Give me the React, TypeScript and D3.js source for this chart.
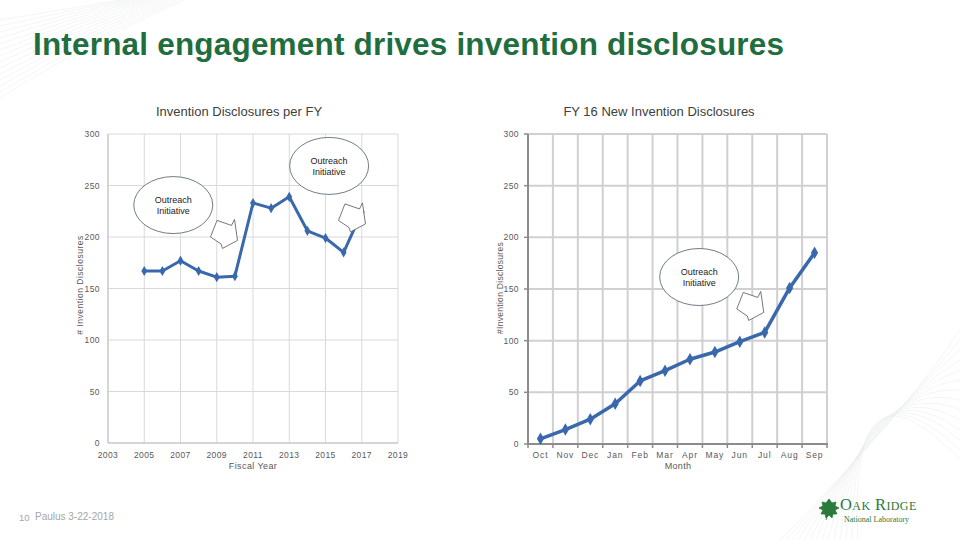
import * as d3 from 'd3';

const FY_YEARS = [2005, 2006, 2007, 2008, 2009, 2010, 2011, 2012, 2013, 2014, 2015, 2016, 2017];
const FY_VALUES = [167, 167, 177, 167, 161, 162, 233, 228, 239, 206, 199, 185, 224];
const FY_TICKS = [2003, 2005, 2007, 2009, 2011, 2013, 2015, 2017, 2019];

const MONTHS = ['Oct', 'Nov', 'Dec', 'Jan', 'Feb', 'Mar', 'Apr', 'May', 'Jun', 'Jul', 'Aug', 'Sep'];
const MONTH_VALUES = [5, 14, 24, 39, 61, 71, 82, 89, 99, 108, 151, 185];

const Y_TICKS = [0, 50, 100, 150, 200, 250, 300];

const LINE_COLOR = '#3a68ac';
const GRID = '#d9d9d9';
const TICK_TEXT = '#595959';
const FONT = '"Liberation Sans", Arial, sans-serif';

// block arrow outline, local px around its centre
const ARROW = [[-7, -13.5], [7.5, -8.5], [10.5, -14.5], [13.5, 6.5], [-1.5, 14.5], [-3, 10], [-13.5, 3]];

const arrowPath = (cx: number, cy: number) =>
  'M' + ARROW.map(([dx, dy]) => `${cx + dx},${cy + dy}`).join('L') + 'Z';

function Bubble({ cx, cy }: { cx: number; cy: number }) {
  return (
    <g>
      <ellipse cx={cx} cy={cy} rx={39.5} ry={28.5} fill="#fff" stroke="#4d5b69" strokeWidth={0.8} />
      <text x={cx} y={cy - 2} textAnchor="middle" fontSize={9} fill="#222" fontFamily={FONT}>Outreach</text>
      <text x={cx} y={cy + 9} textAnchor="middle" fontSize={9} fill="#222" fontFamily={FONT}>Initiative</text>
    </g>
  );
}

function FyChart() {
  const x = d3.scaleLinear().domain([2003, 2019]).range([108, 398]);
  const y = d3.scaleLinear().domain([0, 300]).range([443, 134]);
  const pts = FY_YEARS.map((yr, i) => [x(yr), y(FY_VALUES[i])] as [number, number]);
  const line = d3.line()(pts) || '';
  const diamond = d3.symbol(d3.symbolDiamond, 30)() || '';

  return (
    <g fontFamily={FONT}>
      <text x={239} y={116} textAnchor="middle" fontSize={13} fill="#404040">Invention Disclosures per FY</text>
      {Y_TICKS.map(t => (
        <g key={t}>
          <line x1={108} x2={398} y1={y(t)} y2={y(t)} stroke={GRID} strokeWidth={1} />
          <text x={100} y={y(t) + 3} textAnchor="end" fontSize={8.5} fill={TICK_TEXT} letterSpacing={0.4}>{t}</text>
        </g>
      ))}
      {FY_TICKS.map(t => (
        <g key={t}>
          <line x1={x(t)} x2={x(t)} y1={134} y2={443} stroke={GRID} strokeWidth={1} />
          <text x={x(t)} y={458} textAnchor="middle" fontSize={8.5} fill={TICK_TEXT} letterSpacing={0.4}>{t}</text>
        </g>
      ))}
      <line x1={108} x2={108} y1={134} y2={443} stroke="#bfbfbf" />
      <line x1={108} x2={398} y1={443} y2={443} stroke="#bfbfbf" />
      <text x={253} y={469} textAnchor="middle" fontSize={9} fill={TICK_TEXT} letterSpacing={0.4}>Fiscal Year</text>
      <text transform="translate(83,285) rotate(-90)" textAnchor="middle" fontSize={8.5} fill={TICK_TEXT} letterSpacing={0.5}>
        # Invention Disclosures
      </text>

      <path d={line} fill="none" stroke={LINE_COLOR} strokeWidth={3} strokeLinejoin="round" />
      {pts.map(([px, py], i) => (
        <path key={i} d={diamond} transform={`translate(${px},${py})`} fill={LINE_COLOR} />
      ))}

      <path d={arrowPath(x(2009.4), y(203))} fill="#fff" stroke="#555" strokeWidth={0.8} />
      <path d={arrowPath(x(2016.46), y(219))} fill="#fff" stroke="#555" strokeWidth={0.8} />
      <Bubble cx={x(2006.6)} cy={y(231)} />
      <Bubble cx={x(2015.2)} cy={y(269)} />
    </g>
  );
}

function MonthChart() {
  const x = d3.scaleBand().domain(MONTHS).range([528, 827]);
  const y = d3.scaleLinear().domain([0, 300]).range([444, 134]);
  const step = x.step();
  const xAt = (i: number) => (x(MONTHS[0]) || 0) + i * step + x.bandwidth() / 2;
  const pts = MONTHS.map((m, i) => [(x(m) || 0) + x.bandwidth() / 2, y(MONTH_VALUES[i])] as [number, number]);
  const line = d3.line()(pts) || '';
  const diamond = d3.symbol(d3.symbolDiamond, 45)() || '';
  const edges = d3.range(MONTHS.length + 1).map(i => 528 + i * step);

  return (
    <g fontFamily={FONT}>
      <text x={659} y={116} textAnchor="middle" fontSize={13} fill="#404040">FY 16 New Invention Disclosures</text>
      {Y_TICKS.map(t => (
        <g key={t}>
          <line x1={528} x2={827} y1={y(t)} y2={y(t)} stroke="#d0d0d0" strokeWidth={2} />
          <line x1={524} x2={528} y1={y(t)} y2={y(t)} stroke="#8c8c8c" strokeWidth={1.5} />
          <text x={519} y={y(t) + 3} textAnchor="end" fontSize={8.5} fill={TICK_TEXT} letterSpacing={0.4}>{t}</text>
        </g>
      ))}
      {edges.map((e, i) => (
        <g key={i}>
          <line x1={e} x2={e} y1={134} y2={444} stroke="#d0d0d0" strokeWidth={2} />
          <line x1={e} x2={e} y1={444} y2={448} stroke="#8c8c8c" strokeWidth={1.5} />
        </g>
      ))}
      <line x1={528} x2={528} y1={134} y2={445} stroke="#8c8c8c" strokeWidth={2} />
      <line x1={527} x2={828} y1={444} y2={444} stroke="#8c8c8c" strokeWidth={2} />
      {MONTHS.map(m => (
        <text key={m} x={(x(m) || 0) + x.bandwidth() / 2} y={458} textAnchor="middle" fontSize={8.5}
          fill={TICK_TEXT} letterSpacing={0.9}>{m}</text>
      ))}
      <text x={678} y={469} textAnchor="middle" fontSize={9} fill={TICK_TEXT} letterSpacing={0.3}>Month</text>
      <text transform="translate(503,288) rotate(-90)" textAnchor="middle" fontSize={8.5} fill={TICK_TEXT} letterSpacing={0.3}>
        #Invention Disclosures
      </text>

      <path d={line} fill="none" stroke={LINE_COLOR} strokeWidth={3.5} strokeLinejoin="round" />
      {pts.map(([px, py], i) => (
        <path key={i} d={diamond} transform={`translate(${px},${py})`} fill={LINE_COLOR} />
      ))}

      <path d={arrowPath(xAt(8.42), y(133.6))} fill="#fff" stroke="#555" strokeWidth={0.8} />
      <Bubble cx={xAt(6.37)} cy={y(161.6)} />
    </g>
  );
}

function Watermark() {
  const arcs = d3.range(14);
  return (
    <g fill="none" stroke="#c9d6cc" strokeWidth={0.6} opacity={0.35}>
      {arcs.map(i => (
        <path key={'a' + i} d={`M${780 + i * 6},540 Q${900 - i * 4},${420 - i * 6} 960,${330 + i * 10}`} />
      ))}
      {arcs.map(i => (
        <path key={'b' + i} d={`M0,${20 + i * 6} Q${60 + i * 3},${10 + i * 2} ${120 + i * 5},0`} />
      ))}
    </g>
  );
}

function Logo() {
  return (
    <g>
      <path d="M829,499 l3,4 4,-1 -1,4 4,2 -4,2 2,4 -4,0 -1,4 -3,-3 -3,3 -1,-4 -4,0 2,-4 -4,-2 4,-2 -1,-4 4,1 z M829,512 l-3,8"
        fill="#2a7a3b" stroke="#2a7a3b" strokeWidth={0.8} />
      <text x={840} y={510} fontFamily='"Liberation Serif", "DejaVu Serif", serif' fontSize={16.5}
        fontVariant="small-caps" fill="#2a7a3b" letterSpacing={0.4}>
        Oak Ridge
      </text>
      <text x={844} y={522} fontFamily='"Liberation Serif", "DejaVu Serif", serif' fontSize={8} fill="#2a7a3b">
        National Laboratory
      </text>
    </g>
  );
}

export default function App() {
  return (
    <div style={{ position: 'absolute', left: 0, top: 0 }}>
      <svg width={960} height={540} style={{ display: 'block', background: '#fff' }}>
        <Watermark />
        <text x={33} y={55} fontFamily={FONT} fontSize={31.5} fontWeight="bold" fill="#1f6e40"
          textLength={751} lengthAdjust="spacing">
          Internal engagement drives invention disclosures
        </text>
        <FyChart />
        <MonthChart />
        <text x={19} y={521} fontFamily={FONT} fontSize={9.5} fill="#a6a6a6">10</text>
        <text x={35} y={520} fontFamily={FONT} fontSize={10} fill="#a6a6a6">Paulus 3-22-2018</text>
        <Logo />
      </svg>
    </div>
  );
}
